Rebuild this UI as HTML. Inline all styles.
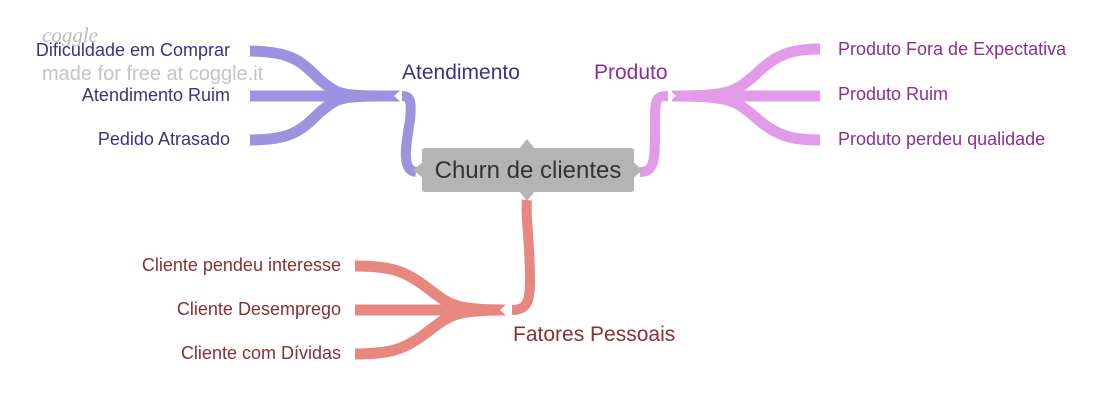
<!DOCTYPE html>
<html><head><style>
body{margin:0;background:#fff;}
svg{display:block;font-family:"Liberation Sans",sans-serif;}
</style></head><body>
<svg width="1110" height="413" viewBox="0 0 1110 413">
<g fill="none" stroke-linecap="butt">
 <g stroke="#9b93e0">
  <path d="M400 96 C340 96 340 96 320 80 C300 60 290 51 248 51" stroke-width="11"/>
  <path d="M400 96 L248 96" stroke-width="11"/>
  <path d="M400 96 C340 96 340 96 320 112 C300 132 290 140 248 140" stroke-width="11"/>
  <path d="M402 96 C410 96 412 100 410 120 C405 150 402 170 416 172" stroke-width="10"/>
 </g>
 <g stroke="#e29be8">
  <path d="M672 96 C730 96 735 92 755 75 C775 55 790 49 820 49" stroke-width="11"/>
  <path d="M672 96 L820 96" stroke-width="11"/>
  <path d="M672 96 C730 96 735 100 755 117 C775 135 790 140 820 140" stroke-width="11"/>
  <path d="M668 96 C655 96 655 100 655 125 C655 160 655 172 640 172" stroke-width="10"/>
 </g>
 <g stroke="#e8877f">
  <path d="M505 310 C455 310 450 305 430 290 C405 270 390 266 355 266" stroke-width="11"/>
  <path d="M505 310 L355 310" stroke-width="11"/>
  <path d="M505 310 C455 310 450 315 430 330 C405 350 390 354 355 354" stroke-width="11"/>
  <path d="M512 310 C528 310 530 300 530 280 C530 240 525 215 527 200" stroke-width="10"/>
 </g>
</g>
<g fill="#fff">
 <polygon points="240,51 250,45 250,57"/><polygon points="240,96 250,90 250,102"/><polygon points="240,140 250,134 250,146"/>
 <polygon points="830,49 820,43 820,55"/><polygon points="830,96 820,90 820,102"/><polygon points="830,140 820,134 820,146"/>
 <polygon points="345,266 355,260 355,272"/><polygon points="345,310 355,304 355,316"/><polygon points="345,354 355,348 355,360"/>
</g>
<polygon points="394,96 402,89 402,103" fill="#fff"/>
<polygon points="676,96 668,89 668,103" fill="#fff"/>
<polygon points="500,310 508,303 508,317" fill="#fff"/>
<rect x="422" y="148" width="212" height="44" rx="3" fill="#b4b4b4"/>
<polygon points="527,139 535,149 519,149" fill="#b4b4b4"/>
<polygon points="527,201 535,191 519,191" fill="#b4b4b4"/>
<polygon points="413,170 423,162 423,178" fill="#b4b4b4"/>
<polygon points="643,170 633,162 633,178" fill="#b4b4b4"/>
<text x="528" y="178" font-size="24" fill="#333" text-anchor="middle">Churn de clientes</text>
<text x="42" y="42" font-size="21" fill="#bbb" font-style="italic" font-family="Liberation Serif,serif">coggle</text>
<text x="42" y="80" font-size="20" fill="#c4c4c4">made for free at coggle.it</text>
<g font-size="18" fill="#3b3283" text-anchor="end">
 <text x="230" y="56">Dificuldade em Comprar</text>
 <text x="230" y="101">Atendimento Ruim</text>
 <text x="230" y="145">Pedido Atrasado</text>
</g>
<text x="402" y="79" font-size="21" fill="#3b3283">Atendimento</text>
<text x="594" y="79" font-size="21" fill="#8a2f93">Produto</text>
<g font-size="18" fill="#8a2f93">
 <text x="838" y="55">Produto Fora de Expectativa</text>
 <text x="838" y="100">Produto Ruim</text>
 <text x="838" y="145">Produto perdeu qualidade</text>
</g>
<g font-size="18" fill="#8b2e2e" text-anchor="end">
 <text x="341" y="271">Cliente pendeu interesse</text>
 <text x="341" y="315">Cliente Desemprego</text>
 <text x="341" y="359">Cliente com Dívidas</text>
</g>
<text x="513" y="341" font-size="21" fill="#8b2e2e">Fatores Pessoais</text>
</svg>
</body></html>
